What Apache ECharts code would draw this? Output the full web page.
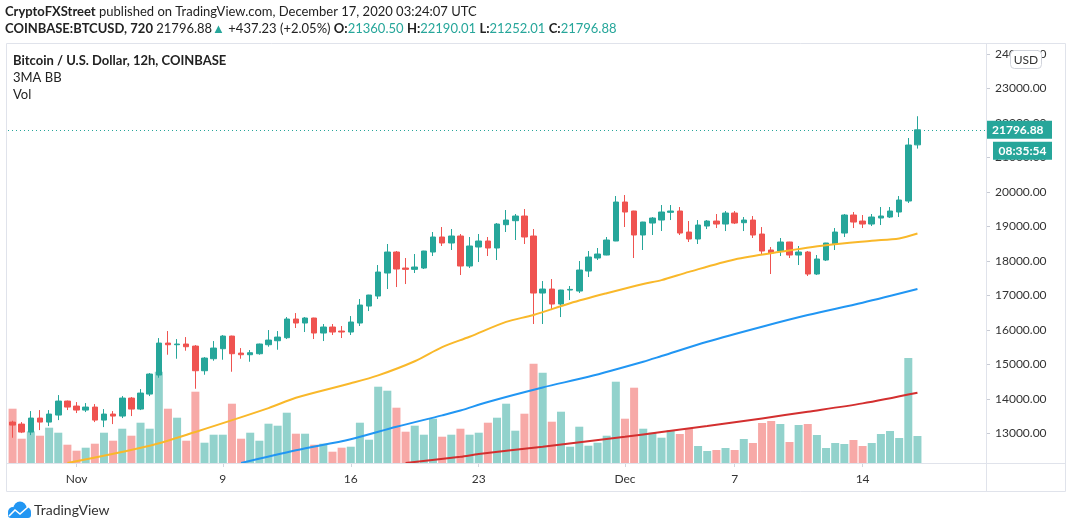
<!DOCTYPE html>
<html><head><meta charset="utf-8">
<script src="https://cdn.jsdelivr.net/npm/echarts@6/dist/echarts.min.js"></script>
<style>html,body{margin:0;padding:0;background:#fff}#c{width:1073px;height:529px}</style>
</head><body><div id="c"></div>
<script>
// ---- data (12h candles, BTC/USD Coinbase) ----
const firstCandle = '2020-10-28T12:00:00Z';
const emptySlots = 7; // blank space to the right of the last candle
// [open, high, low, close]
const ohlc = [
[13326,13365,12872,13239],[13268,13326,13007,13036],[13036,13645,12949,13442],[13442,13674,13094,13326],
[13326,13674,13210,13558],[13529,14109,13384,13935],[13935,13950,13674,13761],[13790,13906,13587,13674],
[13674,13877,13616,13761],[13761,13848,13326,13384],[13384,13703,13181,13558],[13558,13645,13268,13500],
[13500,14080,13442,14022],[14022,14051,13500,13703],[13703,14283,13674,14167],[14138,14747,14080,14718],
[14689,15761,14611,15616],[15616,15964,15278,15568],[15568,15732,15162,15588],[15588,15790,15394,15510],
[15529,15558,14292,14814],[14814,15210,14698,15181],[15162,15674,15104,15471],[15452,15848,15133,15819],
[15819,15830,14785,15307],[15326,15471,15162,15278],[15278,15413,15075,15336],[15307,15600,15278,15588],
[15568,15993,15510,15703],[15684,15964,15423,15790],[15771,16370,15733,16313],[16313,16486,16052,16197],
[16197,16370,15936,16342],[16342,16350,15733,15907],[15907,16168,15675,16081],[16081,16168,15849,15936],
[15965,16110,15762,15936],[15936,16399,15849,16226],[16197,16892,16110,16718],[16689,17015,16544,17008],
[16979,17878,16892,17675],[17646,18487,17182,18255],[18255,18284,17240,17762],[17791,18081,17327,17752],
[17752,18197,17646,17820],[17791,18290,17762,18284],[18255,18835,18139,18690],[18690,18980,18429,18516],
[18516,18922,18313,18719],[18719,18777,17588,17849],[17849,18690,17791,18429],[18400,18777,17965,18574],
[18574,18690,18139,18371],[18371,19095,18023,19066],[19047,19472,18835,19182],[19163,19356,18603,19298],
[19298,19501,18487,18690],[18719,18922,16168,17066],[17066,17414,16168,17182],[17182,17472,16573,16747],
[16747,17160,16370,17153],[17153,17269,16863,17172],[17124,17994,17066,17733],[17704,18284,17530,18110],
[18081,18371,18023,18197],[18168,18690,18160,18603],[18574,19878,18570,19704],[19704,19907,18980,19414],
[19443,19450,18081,18748],[18748,19130,18313,19124],[19095,19269,18748,19240],[19182,19617,18864,19414],
[19405,19617,19182,19443],[19443,19559,18747,18805],[18834,19153,18545,18632],[18632,19182,18487,19037],
[19008,19182,18921,19153],[19153,19356,18950,19066],[19066,19443,18863,19385],[19385,19443,19066,19095],
[19105,19269,18863,19182],[19182,19298,18661,18747],[18776,18979,18197,18284],[18313,18400,17617,18226],
[18284,18661,18139,18545],[18545,18550,18081,18168],[18168,18429,17878,18255],[18255,18284,17559,17617],
[17617,18168,17588,18052],[18023,18520,17994,18516],[18487,18950,18313,18834],[18805,19356,18689,19327],
[19327,19414,18950,19124],[19153,19327,18950,19066],[19066,19356,19008,19269],[19240,19559,19037,19298],
[19269,19559,19240,19443],[19414,19878,19269,19762],[19733,21559,19675,21356],[21360.50,22190.01,21252.01,21796.88]
];
const volumes = [
16290,7290,9480,8190,10590,9090,5490,3690,4590,5790,9090,6690,10290,8190,12090,10290,
27390,16290,13590,6690,21390,6090,8490,8490,17790,7290,9090,6690,11790,11190,15090,8790,
8790,5490,5790,3390,4590,4890,12090,6990,22890,21690,16590,9390,11190,8490,13290,7890,
8490,10290,8490,9090,12090,13590,17790,9690,14790,29790,27090,12390,15390,4890,10890,5190,
6090,8190,24390,13290,22590,10290,9090,7590,9900,8700,10500,5100,3600,3900,4500,3900,
7200,6000,12000,12600,11700,6300,11400,11700,8400,4500,6000,5700,6900,5100,6000,8700,
9600,7500,31500,8100
];
// moving averages read at candle indices: [index, price]
const maFast = [[6,12140],[15,12640],[20,13040],[28,13730],[31,14030],[37,14450],[40,14680],[44,15090],
 [47,15500],[50,15800],[54,16230],[57,16430],[61,16770],[65,17060],[69,17330],[71,17440],[74,17680],
 [79,18040],[84,18260],[89,18450],[94,18580],[97,18650],[99,18790]];
const maMid = [[25,12140],[31,12510],[37,12830],[42,13190],[47,13520],[49,13660],[52,13910],[58,14330],
 [63,14640],[69,15076],[71,15240],[76,15655],[82,16090],[87,16428],[93,16786],[99,17182]];
const maSlow = [[43,12140],[49,12320],[51,12400],[58,12612],[67,12902],[71,13037],[76,13211],[82,13433],
 [87,13626],[93,13868],[99,14177]];
const timeTickIdx = [7,23,37,51,67,79,93];
const timeTickText = ['Nov','9','16','23','Dec','7','14'];
const priceTicks = [13000,14000,15000,16000,17000,18000,19000,20000,21000,22000,23000,24000];
const lastPrice = 21796.88;
const countdown = '08:35:54';

// ---- build ----
const UP = '#26a69a', DOWN = '#ef5350';
const UPV = '#92d2cc', DOWNV = '#f7a9a7';
const FONT = 'Lato, "Open Sans", sans-serif';
const cats = [];
const t0 = Date.parse(firstCandle);
for (let i = 0; i < ohlc.length + emptySlots; i++) cats.push(new Date(t0 + i * 43200000).toISOString().slice(0,16));
const candleData = ohlc.map(d => [d[0], d[3], d[2], d[1]]);
const volData = volumes.map((v, i) => ({value: v, itemStyle: {color: ohlc[i][3] >= ohlc[i][0] ? UPV : DOWNV}}));

const gridPos = {left: 8, right: 87, top: 43, bottom: 66};
const chart = echarts.init(document.getElementById('c'), null, {renderer: 'canvas'});
const option = {
  animation: false,
  backgroundColor: '#fff',
  grid: [Object.assign({}, gridPos), Object.assign({}, gridPos)],
  xAxis: [
    {type: 'category', gridIndex: 0, data: cats, boundaryGap: true,
     axisLine: {show: false},
     axisTick: {show: true, alignWithLabel: true, interval: i => timeTickIdx.includes(i), length: 4, lineStyle: {color: '#d1d4dc'}},
     axisLabel: {interval: i => timeTickIdx.includes(i), formatter: (v, i) => timeTickText[timeTickIdx.indexOf(i)],
       color: '#333', fontSize: 12, fontFamily: FONT, margin: 10},
     splitLine: {show: false}},
    {type: 'category', gridIndex: 1, data: cats, boundaryGap: true, show: false}
  ],
  yAxis: [
    {type: 'value', gridIndex: 0, position: 'right', min: 12140, max: 24313, scale: true,
     splitLine: {show: false}, axisLine: {show: false},
     axisTick: {show: true, length: 4, customValues: priceTicks, lineStyle: {color: '#c8cbd4'}},
     axisLabel: {customValues: priceTicks, formatter: v => v.toFixed(2), color: '#333', fontSize: 12, fontFamily: FONT, margin: 9}},
    {type: 'value', gridIndex: 1, min: 0, max: 126000, show: false}
  ],
  series: [
    {type: 'bar', name: 'Vol', xAxisIndex: 1, yAxisIndex: 1, data: volData, barWidth: 8, z: 1, silent: true},
    {type: 'candlestick', name: 'BTCUSD', xAxisIndex: 0, yAxisIndex: 0, data: candleData, barWidth: 6, z: 3,
     itemStyle: {color: UP, color0: DOWN, borderColor: UP, borderColor0: DOWN, borderWidth: 1},
     markLine: {silent: true, symbol: ['none','none'], animation: false,
       data: [{yAxis: lastPrice}],
       lineStyle: {color: UP, type: [1, 3], width: 1},
       label: {show: true, position: 'end', distance: 0, formatter: () => lastPrice.toFixed(2),
         backgroundColor: UP, color: '#fff', fontWeight: 'bold', fontSize: 12, fontFamily: FONT,
         padding: [3, 6, 3, 6], width: 54, align: 'left'}}},
    {type: 'line', name: 'MA fast', data: maFast, showSymbol: false, smooth: 0.3, z: 4,
     lineStyle: {color: '#f9b82a', width: 2}},
    {type: 'line', name: 'MA mid', data: maMid, showSymbol: false, smooth: 0.3, z: 4,
     lineStyle: {color: '#2196f3', width: 2}},
    {type: 'line', name: 'MA slow', data: maSlow, showSymbol: false, smooth: 0.3, z: 4,
     lineStyle: {color: '#d32f2f', width: 2}}
  ]
};
chart.setOption(option);

const yLast = chart.convertToPixel({yAxisIndex: 0}, lastPrice);
const TXT = '#222';
chart.setOption({graphic: [
  // frame
  {type: 'rect', z: 50, silent: true, shape: {x: 6.5, y: 43.5, width: 1059, height: 448}, style: {fill: null, stroke: '#e0e3eb', lineWidth: 1}},
  {type: 'line', z: 50, silent: true, shape: {x1: 986.5, y1: 43, x2: 986.5, y2: 492}, style: {stroke: '#e0e3eb', lineWidth: 1}},
  {type: 'line', z: 50, silent: true, shape: {x1: 6, y1: 463.5, x2: 1066, y2: 463.5}, style: {stroke: '#e0e3eb', lineWidth: 1}},
  // header
  {type: 'text', z: 60, x: 5, y: 12, style: {text: '{b|CryptoFXStreet} published on TradingView.com, December 17, 2020 03:24:07 UTC',
    fill: TXT, font: '13px ' + FONT, verticalAlign: 'middle',
    rich: {b: {fontWeight: 'bold', fontSize: 13, fontFamily: FONT, fill: TXT}}}},
  {type: 'text', z: 60, x: 5, y: 29, style: {text: '{b|COINBASE:BTCUSD, 720} 21796.88{g|▲} +437.23 (+2.05%) {b|O:}{g|21360.50} {b|H:}{g|22190.01} {b|L:}{g|21252.01} {b|C:}{g|21796.88}',
    fill: TXT, font: '13px ' + FONT, verticalAlign: 'middle',
    rich: {b: {fontWeight: 'bold', fontSize: 13, fontFamily: FONT, fill: TXT}, g: {fill: UP, fontSize: 13, fontFamily: FONT}}}},
  {type: 'text', z: 60, x: 13, y: 61, style: {text: 'Bitcoin / U.S. Dollar, 12h, COINBASE', fill: TXT, font: 'bold 13px ' + FONT, verticalAlign: 'middle'}},
  {type: 'text', z: 60, x: 13, y: 78, style: {text: '3MA BB', fill: TXT, font: '13px ' + FONT, verticalAlign: 'middle'}},
  {type: 'text', z: 60, x: 13, y: 95, style: {text: 'Vol', fill: TXT, font: '13px ' + FONT, verticalAlign: 'middle'}},
  // USD badge
  {type: 'rect', z: 60, shape: {x: 1010.5, y: 50.5, width: 31, height: 18, r: 4}, style: {fill: '#fff', stroke: '#d1d4dc', lineWidth: 1}},
  {type: 'text', z: 61, x: 1026, y: 60, style: {text: 'USD', fill: '#333', font: '12px ' + FONT, align: 'center', verticalAlign: 'middle'}},
  // countdown badge
  {type: 'rect', z: 60, shape: {x: 993, y: yLast + 12, width: 59, height: 18}, style: {fill: UP}},
  {type: 'text', z: 61, x: 1022.5, y: yLast + 21, style: {text: countdown, fill: '#fff', font: 'bold 12px ' + FONT, align: 'center', verticalAlign: 'middle'}},
  // TradingView logo
  {type: 'group', z: 60, children: [
    {type: 'circle', shape: {cx: 13, cy: 512, r: 5}, style: {fill: '#2196f3'}},
    {type: 'circle', shape: {cx: 20, cy: 508, r: 6.5}, style: {fill: '#2196f3'}},
    {type: 'circle', shape: {cx: 26, cy: 512, r: 5}, style: {fill: '#2196f3'}},
    {type: 'rect', shape: {x: 8, y: 511, width: 23, height: 7, r: 3}, style: {fill: '#2196f3'}},
    {type: 'polyline', shape: {points: [[9,516],[15,510],[20,514],[28,507]]}, style: {stroke: '#fff', lineWidth: 1.6, fill: null}}
  ]},
  {type: 'text', z: 60, x: 34, y: 510, style: {text: 'TradingView', fill: '#333', font: '14px ' + FONT, verticalAlign: 'middle'}}
]});
</script></body></html>
